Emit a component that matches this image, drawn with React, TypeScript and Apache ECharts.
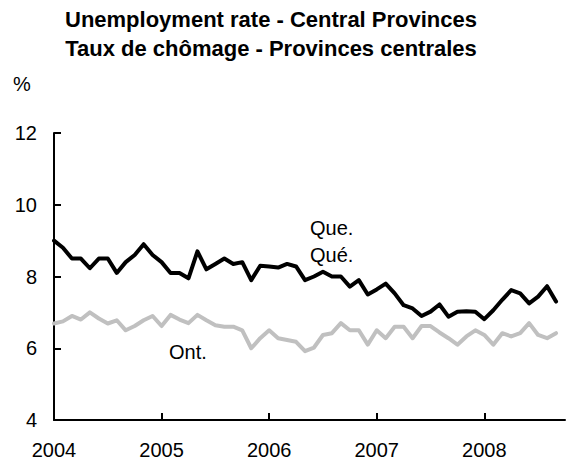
import React, { useEffect, useRef } from "react";
import * as echarts from "echarts";

// Monthly data, January 2004 to September 2008
const yearLabels = ["2004", "2005", "2006", "2007", "2008"];
const yearTickMonths = [0, 12, 24, 36, 48];

const queValues = [
  9.0, 8.8, 8.5, 8.5, 8.23, 8.5, 8.5, 8.1, 8.4, 8.6, 8.9, 8.6,
  8.4, 8.1, 8.1, 7.95, 8.7, 8.2, 8.35, 8.5, 8.35, 8.4, 7.9, 8.3,
  8.28, 8.25, 8.35, 8.28, 7.9, 8.0, 8.13, 8.0, 8.0, 7.72, 7.9, 7.5,
  7.64, 7.8, 7.53, 7.2, 7.11, 6.9, 7.02, 7.22, 6.88, 7.02, 7.03, 7.02,
  6.81, 7.06, 7.35, 7.62, 7.53, 7.25, 7.44, 7.73, 7.3,
];

const ontValues = [
  6.69, 6.75, 6.9, 6.8, 7.0, 6.83, 6.69, 6.78, 6.5, 6.62, 6.78, 6.9,
  6.62, 6.93, 6.8, 6.7, 6.93, 6.78, 6.64, 6.6, 6.6, 6.5, 6.0, 6.28,
  6.5, 6.28, 6.23, 6.18, 5.92, 6.02, 6.37, 6.42, 6.7, 6.5, 6.5, 6.1,
  6.5, 6.28, 6.6, 6.6, 6.28, 6.62, 6.62, 6.44, 6.28, 6.1, 6.33, 6.5,
  6.37, 6.1, 6.42, 6.33, 6.42, 6.7, 6.37, 6.28, 6.42,
];

const titleLines = [
  "Unemployment rate - Central Provinces",
  "Taux de chômage - Provinces centrales",
];

export default function App() {
  const ref = useRef<HTMLDivElement>(null);

  useEffect(() => {
    if (!ref.current) return;
    const chart = echarts.init(ref.current, null, { renderer: "svg" });
    const font = "Liberation Sans";
    const txt = (text: string, x: number, y: number, extra: any = {}) => ({
      type: "text",
      x,
      y,
      style: {
        text,
        fontSize: 20,
        fontFamily: font,
        fill: "#000",
        textVerticalAlign: "middle",
        ...extra,
      },
    });
    chart.setOption({
      animation: false,
      backgroundColor: "#fff",
      grid: { left: 54, right: 4, top: 133, bottom: 43, containLabel: false },
      xAxis: {
        type: "value",
        min: 0,
        max: 57,
        interval: 12,
        splitLine: { show: false },
        axisLine: { show: true, onZero: false, lineStyle: { color: "#000", width: 2 } },
        axisTick: {
          show: true,
          inside: true,
          length: 7,
          customValues: yearTickMonths.slice(1),
          lineStyle: { color: "#000", width: 2 },
        },
        axisLabel: {
          customValues: yearTickMonths,
          formatter: (v: number) => yearLabels[Math.round(v / 12)] ?? "",
          margin: 20,
          fontSize: 20,
          fontFamily: font,
          color: "#000",
        },
      },
      yAxis: {
        type: "value",
        min: 4,
        max: 12,
        interval: 2,
        splitLine: { show: false },
        axisLine: { show: true, lineStyle: { color: "#000", width: 2 } },
        axisTick: { show: true, inside: true, length: 7, lineStyle: { color: "#000", width: 2 } },
        axisLabel: { margin: 17, fontSize: 20, fontFamily: font, color: "#000" },
      },
      graphic: [
        txt(titleLines[0], 271, 19.5, { fontSize: 22, fontWeight: "bold", textAlign: "center" }),
        txt(titleLines[1], 271, 48, { fontSize: 22, fontWeight: "bold", textAlign: "center" }),
        txt("%", 13, 84),
        txt("Que.", 310, 228),
        txt("Qué.", 310, 254.5),
        txt("Ont.", 169, 351.5),
      ],
      series: [
        {
          type: "line",
          name: "Ont.",
          data: ontValues.map((v, i) => [i, v]),
          symbol: "none",
          lineStyle: { color: "#c0c0c0", width: 4, join: "round", cap: "round" },
          itemStyle: { color: "#c0c0c0" },
        },
        {
          type: "line",
          name: "Que.",
          data: queValues.map((v, i) => [i, v]),
          symbol: "none",
          lineStyle: { color: "#000", width: 4, join: "round", cap: "round" },
          itemStyle: { color: "#000" },
        },
      ],
    });
    return () => chart.dispose();
  }, []);

  return (
    <div
      ref={ref}
      style={{ position: "absolute", left: 0, top: 0, width: 569, height: 463 }}
    />
  );
}
